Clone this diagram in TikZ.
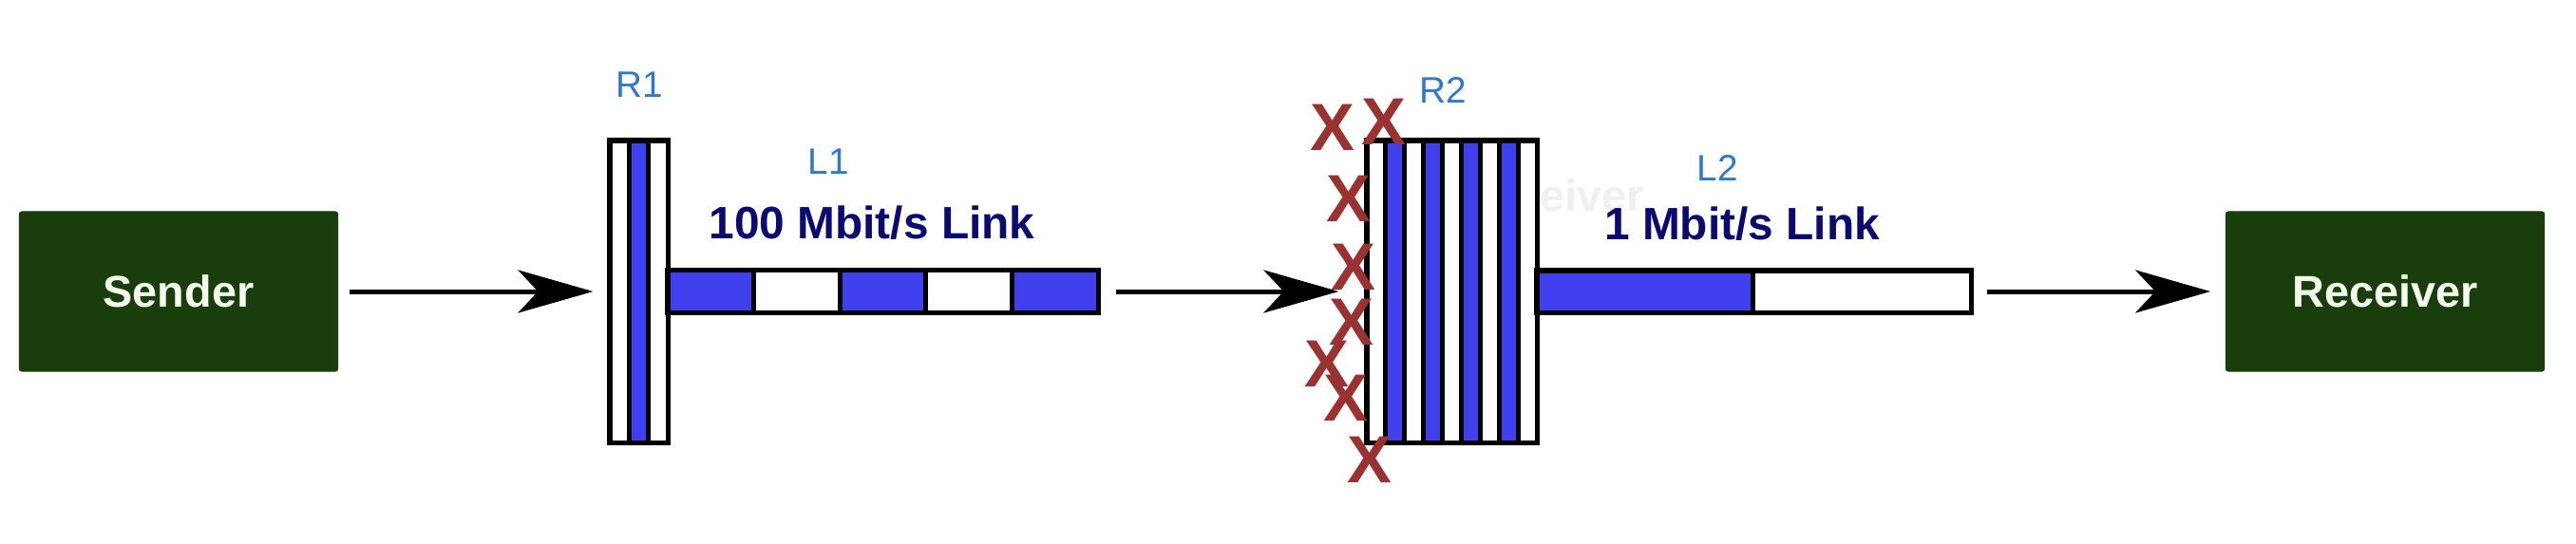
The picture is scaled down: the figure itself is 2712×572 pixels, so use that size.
\documentclass[tikz,border=0pt]{standalone}
\usepackage{fontspec}
\setmainfont{Liberation Sans}
\usetikzlibrary{arrows.meta}
\definecolor{boxgreen}{HTML}{1A3D0C}
\definecolor{hosttext}{HTML}{F4FAEE}
\definecolor{qblue}{HTML}{4040EE}
\definecolor{navytext}{HTML}{0A0A70}
\definecolor{lblblue}{HTML}{2F78D2}
\definecolor{dropred}{HTML}{9A3232}
\definecolor{ghost}{HTML}{F0F0F0}
\tikzset{
  hostbox/.style={rectangle, rounded corners=0.03cm, fill=boxgreen, inner sep=0,
    minimum width=3.36cm, minimum height=1.69cm, text=hosttext,
    font=\fontsize{13.3}{16}\selectfont\bfseries},
  queuebox/.style={rectangle, draw=black, fill=white, line width=0.05cm, inner sep=0},
  lw/.style={line width=0.05cm, draw=black},
  arr/.style={line width=0.05cm, -{Stealth[length=0.79cm, width=0.45cm, inset=0.21cm]}},
  lbl/.style={text=lblblue, inner sep=0, anchor=base, font=\fontsize{11}{13}\selectfont},
  ratelbl/.style={text=navytext, inner sep=0, anchor=base, font=\fontsize{13.6}{16}\selectfont\bfseries},
  dropx/.style={text=dropred, inner sep=0, font=\fontsize{20}{22}\selectfont\bfseries},
}
\begin{document}
\begin{tikzpicture}[x=0.01cm,y=-0.01cm]
\useasboundingbox[fill=white] (0,0) rectangle (2712,572);

% hosts
\node[hostbox] (sender) at (188,307) {Sender};
\node[hostbox] (receiver) at (2511,307) {Receiver};

% ghost text
\node[text=ghost, inner sep=0, anchor=base, font=\fontsize{13.3}{16}\selectfont\bfseries] (ghosttxt) at (1676,222) {eiver};

% R1 queue
\node[queuebox, minimum width=0.61cm, minimum height=3.18cm] (R1) at (672.5,307) {};
\fill[qblue] (662.3,148) rectangle (682.7,466);
\draw[lw] (662.3,148) -- (662.3,466) (682.7,148) -- (682.7,466);
\draw[lw] (642,148) rectangle (703,466);

% L1 link
\node[queuebox, minimum width=4.53cm, minimum height=0.45cm] (L1bar) at (929.5,307) {};
\foreach \i in {0,2,4} {
  \fill[qblue] (703+\i*90.6,284.5) rectangle (703+\i*90.6+90.6,329.5);
}
\foreach \i in {1,2,3,4} {
  \draw[lw] (703+\i*90.6,284.5) -- (703+\i*90.6,329.5);
}
\draw[lw] (703,284.5) rectangle (1156,329.5);

% R2 queue
\node[queuebox, minimum width=1.79cm, minimum height=3.18cm] (R2) at (1528.5,307) {};
\foreach \i in {1,3,5,7} {
  \fill[qblue] (1439+\i*19.889,148) rectangle (1439+\i*19.889+19.889,466);
}
\foreach \i in {1,...,8} {
  \draw[lw] (1439+\i*19.889,148) -- (1439+\i*19.889,466);
}
\draw[lw] (1439,148) rectangle (1618,466);

% L2 link
\node[queuebox, minimum width=4.57cm, minimum height=0.44cm] (L2bar) at (1846.5,307) {};
\fill[qblue] (1618,285) rectangle (1845,329);
\draw[lw] (1845,285) -- (1845,329);
\draw[lw] (1618,285) rectangle (2075,329);

% labels
\node[lbl] (R1lbl) at (673,102) {R1};
\node[lbl] (L1lbl) at (872,183) {L1};
\node[lbl] (R2lbl) at (1519,108) {R2};
\node[lbl] (L2lbl) at (1808,190) {L2};
\node[ratelbl] (L1rate) at (918,251) {100 Mbit/s Link};
\node[ratelbl] (L2rate) at (1834,252) {1 Mbit/s Link};

% connectors
\draw[arr, shorten <=0.11cm, shorten >=0.15cm] (sender) -- (R1);
\draw[arr, shorten <=0.16cm, shorten >=0.27cm] (L1bar) -- (R2);
\draw[arr, shorten <=0.14cm, shorten >=0.15cm] (L2bar) -- (receiver);

% drops
\node[dropx] (x1) at (1403,134) {X};
\node[dropx] (x2) at (1457,128) {X};
\node[dropx] (x3) at (1420,209) {X};
\node[dropx] (x4) at (1425,281) {X};
\node[dropx] (x5) at (1423,339) {X};
\node[dropx] (x6) at (1397,383) {X};
\node[dropx] (x7) at (1417,419) {X};
\node[dropx] (x8) at (1442,484) {X};
\end{tikzpicture}
\end{document}
